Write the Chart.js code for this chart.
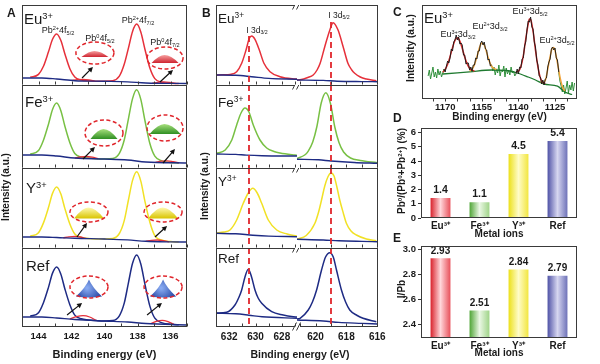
<!DOCTYPE html>
<html><head><meta charset="utf-8">
<script src="https://cdn.jsdelivr.net/npm/chart.js"></script>
<style>
html,body{margin:0;padding:0;background:#fff;}
body{width:600px;height:364px;position:relative;overflow:hidden;font-family:"Liberation Sans",Arial,Helvetica,sans-serif;}
canvas{position:absolute;}
.t{position:absolute;white-space:nowrap;color:#1a1a1a;z-index:5;}
.t sup{font-size:0.62em;position:relative;top:-0.55em;vertical-align:baseline;line-height:0;}
.t sub{font-size:0.62em;position:relative;top:0.3em;vertical-align:baseline;line-height:0;}
</style></head><body>
<script>
// ======================= DATA =======================
// Panel A : Pb 4f spectra, binding energy (eV) vs intensity (a.u.)
const aEnergy = [144.5,144,143.7,143.4,143.15,142.9,142.65,142.4,142.1,141.8,141.4,141,140.5,140,139.5,139.1,138.8,138.55,138.3,138.05,137.8,137.55,137.25,136.95,136.5,136,135.5];
const aEuEnvelope  = [7.7,10.6,18.7,32.9,45.7,51,44.7,31.1,16.3,7.9,5.0,4.2,3.8,3.7,4.2,8.8,20.9,36.9,53.6,60.9,53,35.8,17,6.4,2.6,1.8,1.5];
const aFeEnvelope  = [13.8,17.5,27.8,43.5,58.6,65,57.6,41.7,25.3,14.5,10.9,9.9,9.3,9,9.5,14.6,28.2,49.2,69.4,78.2,68.6,47.5,24.5,11.8,6.9,5.6,5];
const aYEnvelope   = [11.8,15.3,25.1,40.2,54.6,61,54.2,39.4,24,14,10.5,9.6,9.1,9,9.5,14.5,27.6,48,67.6,76.2,66.9,46.7,25.8,12.3,7.7,6.4,6];
const aRefEnvelope = [10.8,14.3,24.3,39.4,53.9,60,53.1,38,22.3,11.9,8.2,7.1,6.4,6,6.4,11.2,24.1,44.2,63.7,72,63,42.9,20.9,8.8,4.1,2.7,2.2];
const aEuBackground  = [[145,7],[143.8,7],[142.9,6],[141.8,4.3],[140,3.7],[138.6,3.1],[137.5,2],[135,1.5]];
const aFeBackground  = [[145,13],[143.8,13],[142.9,12],[141.8,10],[140,9],[138.6,8],[137.5,6],[135,5]];
const aYBackground   = [[145,11],[143.8,11],[142.9,10.5],[141.8,9.7],[140,9],[138.6,8.1],[137.5,6.7],[136,6.1],[135,6]];
const aRefBackground = [[145,10],[143.8,10],[142.9,9],[141.8,7.5],[140,6],[138.6,5],[137.5,3.5],[135,2]];
const aEuPb0_52  = [[142.0,4.6],[141.65,5.3],[141.3,5.7],[140.95,5.2],[140.6,3.9]];
const aEuPb0_72  = [[137.1,1.8],[136.75,2.7],[136.4,3.2],[136.05,2.6],[135.7,1.5]];
const aFePb0_52  = [[141.8,10],[141.45,11],[141.1,11.5],[140.75,10.8],[140.4,9.3]];
const aFePb0_72  = [[136.9,5.8],[136.55,6.8],[136.2,7.2],[135.85,6.4],[135.5,5.2]];
const aYPb0_52   = [[142.5,10.1],[142.15,11.2],[141.8,11.7],[141.45,11],[141.1,9.4]];
const aYPb0_72   = [[137.5,6.7],[137.15,7.6],[136.8,8],[136.45,7.4],[136.1,6.2]];
const aRefPb0_52 = [[142.1,8],[141.7,10.3],[141.3,11.3],[140.9,10],[140.5,6.5]];
const aRefPb0_72 = [[137.2,3.3],[136.85,5.6],[136.5,6.6],[136.15,5.3],[135.8,2.6]];
const aTicks = [144,142,140,138,136];
const aTickLabels = ['144','142','140','138','136'];

// Panel B : I 3d spectra (broken axis)
const bEuLeft  = [[633,10],[632.4,10.2],[631.94,10.6],[631.43,13.3],[631.05,21.7],[630.72,35],[630.47,46.7],[630.29,49],[630.04,45.7],[629.71,35],[629.36,21.7],[628.9,13.3],[628.14,8.3],[627.0,6],[626.85,5.9]];
const bEuRight = [[621.2,5],[621.0,5.2],[620.5,7.5],[620.15,10],[619.9,15],[619.7,21.7],[619.4,38.3],[619.07,55],[618.86,62.3],[618.54,55],[618.21,38.3],[617.9,21.7],[617.65,15],[617.46,11.7],[617.1,8],[616.7,6],[616.06,4.3]];
const bFeLeft  = [[633,14.5],[632.3,18],[631.8,28],[631.43,43],[631.1,55],[630.8,60],[630.5,56],[630.17,43],[629.66,28],[629.15,20],[628.6,16.5],[628.14,15],[627,13],[626.85,12.8]];
const bFeRight = [[621.2,9.5],[620.7,13],[620.48,16.7],[620.18,26],[619.91,41.5],[619.63,65],[619.33,75.2],[619.03,64.5],[618.75,41],[618.48,25.5],[618.18,16],[617.73,10],[617.1,7.5],[616,5.3]];
const bYLeft   = [[633,15],[632.4,16],[631.94,18],[631.43,28],[630.93,44.7],[630.55,55],[630.21,59.7],[629.87,55],[629.53,44.7],[629.03,28],[628.39,18],[627.6,14],[626.85,12]];
const bYRight  = [[621.2,9],[620.6,12.5],[620.04,24.7],[619.8,36],[619.61,48],[619.4,62],[619.2,71],[619.0,75],[618.8,72],[618.6,60],[618.43,48],[618.2,35],[618.0,24.7],[617.7,17],[617.35,13],[616.7,9],[616.06,7.3]];
const bRefLeft = [[633,14],[632.19,14.8],[631.56,22],[631.25,30],[631.05,37],[630.8,50],[630.55,57.7],[630.3,50],[630.04,37],[629.8,29],[629.53,23.7],[628.77,15.3],[627.9,12],[627.13,10.3],[626.85,10]];
const bRefRight= [[621.2,8],[621,8.7],[620.47,17],[620.2,25],[619.93,37],[619.61,57],[619.35,70],[619.07,74.3],[618.85,70],[618.64,57],[618.32,37],[618.05,25],[617.78,17],[617.3,11.5],[616.92,8.7],[616.06,5.3]];
const bEuBaseL  = [[633,10],[631.5,9.7],[630.3,8.3],[629,6.6],[626.85,5.7]];
const bEuBaseR  = [[621.2,5],[619.5,4.6],[618.6,3.8],[617,3.4],[616,3.3]];
const bFeBaseL  = [[633,14],[631.5,13.6],[630.7,12.9],[629.5,12.3],[626.85,12]];
const bFeBaseR  = [[621.2,8.7],[619.8,8.2],[619,7],[617.5,5.5],[616,4.7]];
const bYBaseL   = [[633,14.7],[631.5,14.2],[630.2,12.8],[629,11.9],[626.85,11.3]];
const bYBaseR   = [[621.2,8.7],[619.5,8],[618.5,7.2],[617,6.6],[616,6.3]];
const bRefBaseL = [[633,13.7],[631.5,13.2],[630.5,11.8],[629.5,10.2],[626.85,8.7]];
const bRefBaseR = [[621.2,7],[619.5,6],[618.5,4.6],[617,3.6],[616,3]];
const bMarkers = [630.5, 618.97];   // I 3d3/2 and I 3d5/2 reference positions
const bTicksL = [632,630,628], bTickLabelsL = ['632','630','628'];
const bTicksR = [620,618,616], bTickLabelsR = ['620','618','616'];

// Panel C : Eu 3d spectrum
const cNoiseLeft  = [[1177,24],[1176.5,30],[1176,21],[1175.5,27],[1175,33],[1174.5,23],[1174,28],[1173.5,22],[1173,31],[1172.5,25],[1172,29],[1171.5,23],[1171,27],[1170.5,31]];
const cDataA = [[1170.5,31],[1170,28],[1169.5,34],[1169,39],[1168.5,37],[1168,42],[1167.5,51],[1167,49],[1166.5,58],[1166,60],[1165.5,65],[1165,60],[1164.5,63],[1164,56],[1163.5,57],[1163,55],[1162.5,45],[1162,45],[1161.5,36],[1161,37],[1160.5,37],[1160,30],[1159.5,33],[1159,29],[1158.5,35],[1158,35],[1157.5,42],[1157,41],[1156.5,49],[1156,49],[1155.5,57],[1155,59],[1154.5,55],[1154,58],[1153.5,51],[1153,50],[1152.5,40],[1152,41],[1151.5,34],[1151,35]];
const cNoiseMid = [[1151,35],[1150.5,29],[1150,33],[1149.5,25],[1149,31],[1148.5,27],[1148,35],[1147.5,24],[1147,30],[1146.5,28],[1146,34],[1145.5,23],[1145,32],[1144.5,26],[1144,30],[1143.5,25],[1143,33],[1142.5,27],[1142,29],[1141.5,24],[1141,26]];
const cDataB = [[1141,26],[1140.5,31],[1140,26],[1139.5,33],[1139,32],[1138.5,41],[1138,42],[1137.5,54],[1137,58],[1136.5,70],[1136,79],[1135.5,78],[1135,83],[1134.5,73],[1134,71],[1133.5,58],[1133,53],[1132.5,40],[1132,35],[1131.5,24],[1131,23],[1130.5,16],[1130,20],[1129.5,15],[1129,21],[1128.5,22],[1128,33],[1127.5,38],[1127,41],[1126.5,51],[1126,53],[1125.5,50],[1125,52],[1124.5,42],[1124,40],[1123.5,28]];
const cNoiseRight = [[1123.5,28],[1123,19],[1122.5,14],[1122,8],[1121.5,15],[1121,6],[1120.5,12],[1120,19],[1119.5,7],[1119,15],[1118.5,10],[1118,18],[1117.5,9],[1117,17]];
const cFitEu3_32 = [[1171,27.7],[1170,30.6],[1169,35.7],[1168,43.5],[1167,52.4],[1166,59.6],[1165,62.2],[1164,58.9],[1163,51.5],[1162,43],[1161,36.1],[1160,31.8],[1159,29.8],[1158,28.9]];
const cFitEu2_32 = [[1160,28.9],[1159,30.8],[1158,35.4],[1157,43.1],[1156,51.9],[1155,57],[1154,55],[1153,47.5],[1152,39.3],[1151,33.8],[1150,31.4],[1149,30.7]];
const cFitEu3_52 = [[1141,28.1],[1140,28.9],[1139,33.3],[1138,44.1],[1137,60.8],[1136,76.1],[1135.5,81],[1135,80.5],[1134,68.8],[1133,49.7],[1132,33],[1131,22],[1130,17.8],[1129,16.3]];
const cFitEu2_52 = [[1131,18.3],[1130,17.6],[1129,19.5],[1128,30.7],[1127,43.6],[1126,52.3],[1125.5,52.4],[1125,49.4],[1124,37],[1123,23.4],[1122,13.6],[1121,9]];
const cBackground = [[1171,26],[1165,27.2],[1160,28.2],[1151,30],[1145,29.5],[1140.5,27],[1136,23],[1133,20],[1129.5,16],[1124,13.8],[1121,8],[1118,5.5]];
const cTicks = [1170,1155,1140,1125], cTickLabels = ['1170','1155','1140','1125'];
const cMinorTicks = [1175,1170,1165,1160,1155,1150,1145,1140,1135,1130,1125,1120];

// Panels D & E : bar charts
const metalIons = ['Eu³⁺','Fe³⁺','Y³⁺','Ref'];
const pb0Percent = [1.4, 1.1, 4.5, 5.4];
const iPbRatio = [2.93, 2.51, 2.84, 2.79];
const dTicks = [0,1,2,3,4,5,6], dTickLabels = ['0','1','2','3','4','5','6'];
const eTicks = [2.4,2.6,2.8,3.0], eTickLabels = ['2.4','2.6','2.8','3.0'];

// ======================= STYLE / HELPERS =======================
const RED='#e6303a', GREEN='#78c044', YELLOW='#f1e125', NAVY='#1e2b84';
const FONT='"Liberation Sans", Arial, Helvetica, sans-serif';
Chart.defaults.font.family = FONT;
Chart.defaults.color = '#1a1a1a';

function canvasAt(l,t,w,h){
  const c=document.createElement('canvas');
  c.width=w; c.height=h;
  c.style.left=l+'px'; c.style.top=t+'px'; c.style.width=w+'px'; c.style.height=h+'px';
  document.body.appendChild(c); return c;
}
const xy = (xs, ys) => xs.map((x,i)=>({x, y:ys[i]}));
const pr = arr => arr.map(p=>({x:p[0], y:p[1]}));
function line(data, color, w, smooth=true){
  return {data, borderColor:color, borderWidth:w, pointRadius:0, fill:false,
          cubicInterpolationMode: smooth?'monotone':'default', tension:0};
}

const framePlugin = {id:'frame', afterDraw(chart, args, o){
  if(!o || !o.sides) return;
  const c=chart.ctx, A=chart.chartArea;
  const L=Math.round(A.left)+0.5, R=Math.round(A.right)-0.5, T=Math.round(A.top)+0.5, B=Math.round(A.bottom)-0.5;
  const gl=o.gapL?3:0, gr=o.gapR?3:0;
  c.save(); c.strokeStyle='#3a3a3a'; c.lineWidth=1; c.beginPath();
  if(o.sides.includes('t')){c.moveTo(L-0.5+gl,T);c.lineTo(R+0.5-gr,T);}
  if(o.sides.includes('b')){c.moveTo(L-0.5+gl,B);c.lineTo(R+0.5-gr,B);}
  if(o.sides.includes('l')){c.moveTo(L,T);c.lineTo(L,B);}
  if(o.sides.includes('r')){c.moveTo(R,T);c.lineTo(R,B);}
  c.stroke();
  if(o.ticks){
    const xs=chart.scales.x, dir=o.tickDir||-1, len=o.tickLen||3;
    c.beginPath();
    o.ticks.forEach(v=>{const px=Math.round(xs.getPixelForValue(v))+0.5; c.moveTo(px,B); c.lineTo(px,B+dir*len);});
    c.stroke();
  }
  if(o.brk){
    const ys=[T]; if(o.sides.includes('b')) ys.push(B);
    c.beginPath();
    ys.forEach(y=>{[-3,1].forEach(dx=>{c.moveTo(L+dx-2,y+4);c.lineTo(L+dx+2,y-4);});});
    c.stroke();
  }
  c.restore();
}};

function drawIcon(c,cx,cy,w,h,kind,c1,c2){
  c.save();
  c.beginPath();
  if(kind==='pyr'){
    c.moveTo(cx-w/2,cy+h/2);
    c.quadraticCurveTo(cx-w*0.12,cy-h*0.05,cx,cy-h/2);
    c.quadraticCurveTo(cx+w*0.12,cy-h*0.05,cx+w/2,cy+h/2);
    c.quadraticCurveTo(cx,cy+h/2+2,cx-w/2,cy+h/2);
    const g=c.createRadialGradient(cx-2,cy,1,cx,cy,w*0.6);
    g.addColorStop(0,c2); g.addColorStop(1,c1); c.fillStyle=g;
  } else {
    c.moveTo(cx-w/2,cy+h/2);
    c.quadraticCurveTo(cx-w*0.22,cy-h/2,cx-w*0.02,cy-h/2);
    c.quadraticCurveTo(cx+w*0.22,cy-h/2,cx+w/2,cy+h/2);
    c.closePath();
    const g=c.createLinearGradient(cx,cy-h/2,cx,cy+h/2);
    g.addColorStop(0,c2); g.addColorStop(1,c1); c.fillStyle=g;
  }
  c.fill();
  c.restore();
}
const decorPlugin = {id:'decor', afterDatasetsDraw(chart, args, o){
  if(!o || !o.items) return;
  const c=chart.ctx, xs=chart.scales.x, ys=chart.scales.y;
  o.items.forEach(it=>{
    if(it.type==='ellipse'){
      const cx=xs.getPixelForValue(it.x), cy=ys.getPixelForValue(it.y);
      drawIcon(c,cx,cy+1,it.w,it.h,it.icon,it.c1,it.c2);
      c.save(); c.setLineDash([4,2.5]); c.strokeStyle='#e0262c'; c.lineWidth=1.5;
      c.beginPath(); c.ellipse(cx,cy,it.rx,it.ry,0,0,Math.PI*2); c.stroke(); c.restore();
    } else {
      const x1=xs.getPixelForValue(it.x1), y1=ys.getPixelForValue(it.y1), x2=xs.getPixelForValue(it.x2), y2=ys.getPixelForValue(it.y2);
      const a=Math.atan2(y2-y1,x2-x1);
      c.save(); c.strokeStyle='#111'; c.fillStyle='#111'; c.lineWidth=1.2;
      c.beginPath(); c.moveTo(x1,y1); c.lineTo(x2-Math.cos(a)*3,y2-Math.sin(a)*3); c.stroke();
      c.beginPath(); c.moveTo(x2,y2);
      c.lineTo(x2-Math.cos(a)*5+Math.sin(a)*2.6, y2-Math.sin(a)*5-Math.cos(a)*2.6);
      c.lineTo(x2-Math.cos(a)*5-Math.sin(a)*2.6, y2-Math.sin(a)*5+Math.cos(a)*2.6);
      c.closePath(); c.fill(); c.restore();
    }
  });
}};
const vlinePlugin = {id:'vline', afterDatasetsDraw(chart, args, o){
  if(!o || o.value===undefined) return;
  const c=chart.ctx, A=chart.chartArea;
  const x=Math.round(chart.scales.x.getPixelForValue(o.value));
  const y0=o.from!==undefined?chart.scales.y.getPixelForValue(o.from):A.top;
  c.save(); c.strokeStyle='#e0262c'; c.lineWidth=1.8; c.setLineDash([6,4]);
  c.beginPath(); c.moveTo(x,y0); c.lineTo(x,A.bottom); c.stroke(); c.restore();
}};

function spec(o){
  const cv=canvasAt(o.left,o.top,o.w,o.h);
  const ax=o.axis;
  return new Chart(cv,{
    type:'line',
    data:{datasets:o.sets},
    options:{
      responsive:false, animation:false, events:[],
      layout:{padding:{left:o.padL,right:o.padR,top:o.padT||0,bottom:0}},
      scales:{
        x:{type:'linear',reverse:true,min:o.xmin,max:o.xmax,display:!!ax,
           grid:{display:false,drawTicks:false},border:{display:false},
           ticks: ax?{font:{size:ax.size,weight:'bold'},color:'#1a1a1a',padding:ax.pad,maxRotation:0,autoSkip:false,callback:(v,i)=>ax.labels[i]}:{},
           afterBuildTicks:s=>{ if(ax) s.ticks=ax.ticks.map(v=>({value:v})); },
           afterFit:s=>{ if(ax) s.height=ax.h; },
           title: (ax&&ax.title)?{display:true,text:ax.title,font:{size:ax.tsize,weight:'bold'},color:'#1a1a1a',padding:{top:0,bottom:ax.tpad}}:{display:false}
        },
        y:{display:false,min:o.ymin||0,max:o.ymax}
      },
      plugins:{legend:{display:false},tooltip:{enabled:false},frame:o.frame,decor:o.decor||{},vline:o.vline||{}}
    },
    plugins:[framePlugin,decorPlugin,vlinePlugin]
  });
}

// ======================= PANEL A =======================
const rows=[{top:5,h:80},{top:85,h:83},{top:168,h:80},{top:248,h:79}];
const aTickAll=[145,144,143,142,141,140,139,138,137,136,135];
const EuIcon={c1:'#cf2430',c2:'#f6a0a0'}, FeIcon={c1:'#2f8f22',c2:'#a8e07e'}, YIcon={c1:'#d9c400',c2:'#fffab0'}, RefIcon={c1:'#1b3c9c',c2:'#86a8f0'};
const aRows=[
 {env:aEuEnvelope,col:RED,base:aEuBackground,pb:[aEuPb0_52,aEuPb0_72],decor:[
   Object.assign({type:'ellipse',x:140.58,y:32,rx:19,ry:11,w:27,h:6,icon:'mound'},EuIcon),
   Object.assign({type:'ellipse',x:136.33,y:27,rx:18,ry:11,w:27,h:8,icon:'mound'},EuIcon),
   {type:'arrow',x1:141.36,y1:7,x2:140.7,y2:18},{type:'arrow',x1:136.64,y1:3,x2:135.85,y2:15}]},
 {env:aFeEnvelope,col:GREEN,base:aFeBackground,pb:[aFePb0_52,aFePb0_72],decor:[
   Object.assign({type:'ellipse',x:140.03,y:35,rx:19,ry:13,w:27,h:10,icon:'mound'},FeIcon),
   Object.assign({type:'ellipse',x:136.33,y:40,rx:18,ry:13,w:31,h:10,icon:'mound'},FeIcon),
   {type:'arrow',x1:141.3,y1:9,x2:140.58,y2:21},{type:'arrow',x1:136.45,y1:5,x2:135.73,y2:19}]},
 {env:aYEnvelope,col:YELLOW,base:aYBackground,pb:[aYPb0_52,aYPb0_72],decor:[
   Object.assign({type:'ellipse',x:140.94,y:36,rx:19,ry:10,w:30,h:11,icon:'mound'},YIcon),
   Object.assign({type:'ellipse',x:136.45,y:36,rx:19,ry:10,w:30,h:11,icon:'mound'},YIcon),
   {type:'arrow',x1:141.67,y1:11,x2:141.06,y2:25},{type:'arrow',x1:136.94,y1:11,x2:136.21,y2:22}]},
 {env:aRefEnvelope,col:NAVY,base:aRefBackground,pb:[aRefPb0_52,aRefPb0_72],decor:[
   Object.assign({type:'ellipse',x:140.94,y:40,rx:19,ry:11,w:26,h:17,icon:'pyr'},RefIcon),
   Object.assign({type:'ellipse',x:136.45,y:40,rx:19,ry:11,w:26,h:17,icon:'pyr'},RefIcon),
   {type:'arrow',x1:142.27,y1:12,x2:141.36,y2:24},{type:'arrow',x1:137.42,y1:12,x2:136.52,y2:24}]}
];
aRows.forEach((r,i)=>{
  const last=i===3;
  spec({left:0,top:rows[i].top,w:200,h:last?116:rows[i].h,padL:22,padR:13,xmin:135,xmax:145,ymax:rows[i].h,
    sets:[line(pr(r.base),NAVY,1.4),line(pr(r.pb[0]),RED,1.3),line(pr(r.pb[1]),RED,1.3),line(xy(aEnergy,r.env),r.col,1.5)],
    axis:last?{ticks:aTicks,labels:aTickLabels,size:9.5,pad:4,h:37,title:'Binding energy (eV)',tsize:11,tpad:2}:null,
    frame:{sides:last?'tlrb':'tlr',ticks:aTickAll,tickLen:3,tickDir:-1},
    decor:{items:r.decor}});
});

// ======================= PANEL B =======================
const bRows=[
 {L:bEuLeft,R:bEuRight,BL:bEuBaseL,BR:bEuBaseR,col:RED,fromL:49,fromR:63},
 {L:bFeLeft,R:bFeRight,BL:bFeBaseL,BR:bFeBaseR,col:GREEN},
 {L:bYLeft,R:bYRight,BL:bYBaseL,BR:bYBaseR,col:YELLOW},
 {L:bRefLeft,R:bRefRight,BL:bRefBaseL,BR:bRefBaseR,col:NAVY}
];
bRows.forEach((r,i)=>{
  const last=i===3, h=last?116:rows[i].h;
  spec({left:200,top:rows[i].top,w:97,h,padL:16,padR:0,xmin:626.85,xmax:633,ymax:rows[i].h,
    sets:[line(pr(r.BL),NAVY,1.4),line(pr(r.L),r.col,1.5)],
    axis:last?{ticks:bTicksL,labels:bTickLabelsL,size:10,pad:4,h:37}:null,
    frame:{sides:last?'tlb':'tl',gapR:true,ticks:[627,628,629,630,631,632,633],tickLen:3,tickDir:-1},
    vline:{value:bMarkers[0],from:r.fromL}});
  spec({left:290,top:rows[i].top,w:110,h,padL:7,padR:22,xmin:615.95,xmax:621.2,ymax:rows[i].h,
    sets:[line(pr(r.BR),NAVY,1.4),line(pr(r.R),r.col,1.5)],
    axis:last?{ticks:bTicksR,labels:bTickLabelsR,size:10,pad:4,h:37}:null,
    frame:{sides:last?'trb':'tr',gapL:true,brk:true,ticks:[616,617,618,619,620,621],tickLen:3,tickDir:-1},
    vline:{value:bMarkers[1],from:r.fromR}});
});

// ======================= PANEL C =======================
spec({left:400,top:0,w:200,h:123,padL:22,padR:23,padT:5,xmin:1116,xmax:1179.5,ymin:1,ymax:95,
  sets:[
    line(pr(cDataA),'#151515',0.9,false), line(pr(cDataB),'#151515',0.9,false),
    line(pr(cFitEu3_32),'#d42a2a',1.5), line(pr(cFitEu2_32),'#f0a23a',1.5),
    line(pr(cFitEu3_52),'#d42a2a',1.5), line(pr(cFitEu2_52),'#f0a23a',1.5),
    line(pr(cBackground),'#1f7a30',1.3),
    line(pr(cNoiseLeft),'#2f8f3a',1,false), line(pr(cNoiseMid),'#2f8f3a',1,false), line(pr(cNoiseRight),'#2f8f3a',1,false)
  ],
  axis:{ticks:cTicks,labels:cTickLabels,size:9.5,pad:3,h:24,title:'Binding energy (eV)',tsize:10,tpad:0},
  frame:{sides:'tblr',ticks:cMinorTicks,tickLen:3,tickDir:1}});

// ======================= PANELS D & E =======================
const barCols=[['#d9222c','#ffd6da','#e8505a'],['#4fa536','#eaf7e4','#9fd488'],['#ece01a','#fffcc8','#f2e640'],['#4f52a6','#d6d6f0','#6e72b8']];
const barGrad={id:'barGrad',beforeDatasetsDraw(chart){
  const meta=chart.getDatasetMeta(0), c=chart.ctx;
  meta.data.forEach((el,i)=>{
    const g=c.createLinearGradient(el.x-el.width/2,0,el.x+el.width/2,0);
    g.addColorStop(0,barCols[i][0]); g.addColorStop(0.5,barCols[i][1]); g.addColorStop(1,barCols[i][2]);
    el.options.backgroundColor=g;
  });
}};
const valPlugin={id:'vals',afterDatasetsDraw(chart,args,o){
  if(!o||o.dec===undefined) return;
  const c=chart.ctx, meta=chart.getDatasetMeta(0), d=chart.data.datasets[0].data;
  c.save(); c.font='bold '+o.size+'px '+FONT; c.fillStyle='#1a1a1a'; c.textAlign='center'; c.textBaseline='middle';
  meta.data.forEach((el,i)=>c.fillText(d[i].toFixed(o.dec),el.x,el.y-o.off));
  c.restore();
}};
function bars(o){
  const cv=canvasAt(400,o.top,200,o.h);
  return new Chart(cv,{
    type:'bar',
    data:{labels:metalIons,datasets:[{data:o.values,backgroundColor:()=>'#ccc',borderWidth:0,barPercentage:0.51,categoryPercentage:1}]},
    options:{responsive:false,animation:false,events:[],
      layout:{padding:{left:0,right:23,top:o.padT,bottom:0}},
      scales:{
        x:{grid:{display:false,drawTicks:false},border:{display:false},
           ticks:{font:{size:10,weight:'bold'},color:'#1a1a1a',padding:2,maxRotation:0,autoSkip:false},
           afterFit:s=>{s.height=o.axisH;},
           title:{display:true,text:'Metal ions',font:{size:10,weight:'bold'},color:'#1a1a1a',padding:{top:0,bottom:o.tpad}}},
        y:{min:o.min,max:o.max,grid:{drawOnChartArea:false,drawTicks:true,tickLength:3,color:'#333'},border:{display:false},
           ticks:{font:{size:9.5,weight:'bold'},color:'#1a1a1a',padding:2,callback:(v,i)=>o.tickLabels[i]},
           afterBuildTicks:s=>{s.ticks=o.ticks.map(v=>({value:v}));},
           afterFit:s=>{s.width=21;}}
      },
      plugins:{legend:{display:false},tooltip:{enabled:false},frame:{sides:'tblr'},vals:{dec:o.dec,size:o.vsize,off:o.voff}}
    },
    plugins:[framePlugin,barGrad,valPlugin]
  });
}
bars({top:120,h:120,padT:5,axisH:22,tpad:0,min:0,max:6.34,values:pb0Percent,ticks:dTicks,tickLabels:dTickLabels,dec:1,vsize:10.5,voff:8});
bars({top:238,h:126,padT:5,axisH:26,tpad:5,min:2.29,max:3.03,values:iPbRatio,ticks:eTicks,tickLabels:eTickLabels,dec:2,vsize:10,voff:7});

// ======================= TEXT =======================
function txt(html,x,y,size,opt={}){
  const d=document.createElement('div'); d.className='t'; d.innerHTML=html;
  d.style.fontSize=size+'px'; d.style.lineHeight=size+'px'; d.style.fontWeight=opt.bold?'bold':'normal';
  d.style.left=x+'px';
  if(opt.rot){ d.style.top=y+'px'; d.style.transform='translate(-50%,-50%) rotate(-90deg)'; }
  else { d.style.top=(y-0.8465*size)+'px'; if(opt.center) d.style.transform='translateX(-50%)'; }
  document.body.appendChild(d);
}
txt('A',7,17,12,{bold:true}); txt('B',202,17,12,{bold:true}); txt('C',393,16,12,{bold:true});
txt('D',393,122,12,{bold:true}); txt('E',393,242,12,{bold:true});
txt('Eu<sup>3+</sup>',24,24,15); txt('Fe<sup>3+</sup>',25,107,15); txt('Y<sup>3+</sup>',26,193,15); txt('Ref',26,271,15);
txt('Eu<sup>3+</sup>',218,23,13.5); txt('Fe<sup>3+</sup>',218,107,13.5); txt('Y<sup>3+</sup>',218,186,13.5); txt('Ref',218,263,13.5);
txt('Pb<sup>2+</sup>4f<sub>5/2</sub>',58,34,9,{center:true});
txt('Pb<sup>0</sup>4f<sub>5/2</sub>',100,42,9,{center:true});
txt('Pb<sup>2+</sup>4f<sub>7/2</sub>',138,24,9,{center:true});
txt('Pb<sup>0</sup>4f<sub>7/2</sub>',165,46,9,{center:true});
txt('I 3d<sub>3/2</sub>',257,33,8.5,{center:true});
txt('I 3d<sub>5/2</sub>',339,18,8.5,{center:true});
txt('Eu<sup>3+</sup>',424,23,15);
txt('Eu<sup>3+</sup>3d<sub>3/2</sub>',458,38,9,{center:true});
txt('Eu<sup>2+</sup>3d<sub>3/2</sub>',490,30,9,{center:true});
txt('Eu<sup>3+</sup>3d<sub>5/2</sub>',530,15,9,{center:true});
txt('Eu<sup>2+</sup>3d<sub>5/2</sub>',557,44,9,{center:true});
txt('Intensity (a.u.)',6,187,10,{bold:true,rot:true});
txt('Intensity (a.u.)',205,186,10,{bold:true,rot:true});
txt('Intensity (a.u.)',411,48,10,{bold:true,rot:true});
txt('Pb<sup>0</sup>/(Pb<sup>0</sup>+Pb<sup>2+</sup>) (%)',402,171,10,{bold:true,rot:true});
txt('I/Pb',402,289,10,{bold:true,rot:true});
txt('Binding energy (eV)',300,358,10.5,{bold:true,center:true});
</script>
</body></html>
